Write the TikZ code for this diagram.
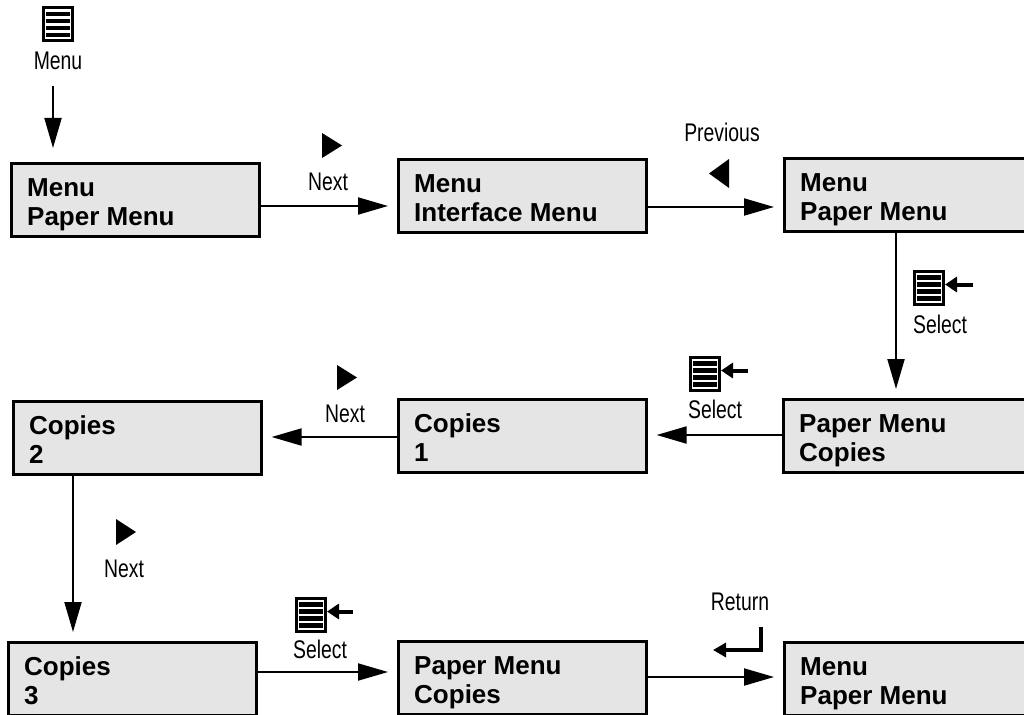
\documentclass[tikz,border=0pt]{standalone}
\usepackage{fontspec}
\setmainfont{Liberation Sans}
\newfontfamily\lblfont[FakeStretch=0.76]{Liberation Sans}
\usetikzlibrary{arrows.meta,calc}

\tikzset{
  panel/.style={draw, line width=2.6pt, fill=black!10, minimum width=248pt,
    minimum height=73pt, inner sep=0pt, anchor=north west},
  ptext/.style={anchor=base west, inner sep=0pt,
    font=\fontsize{26}{29}\selectfont\bfseries},
  lbl/.style={anchor=base, inner sep=0pt, font=\lblfont\fontsize{25.5}{28}\selectfont},
  lblw/.style={lbl, anchor=base west},
  flow/.style={line width=2pt, -{Triangle[length=30pt,width=17pt]}, shorten >=9pt},
  keyarrow/.style={line width=4pt, -{Triangle[length=12pt,width=15pt]}},
  docicon/.style={draw, line width=3pt, minimum width=29pt, minimum height=33pt,
    inner sep=0pt, fill=white},
  docbar/.style={fill=black},
}

\newcommand\panelbox[5]{%
  \node[panel] (#1) at (#2,#3) {};
  \node[ptext] (#1a) at ($(#1.north west)+(17,34)$) {#4};
  \node[ptext] (#1b) at ($(#1.north west)+(17,63)$) {#5};}

\newcommand\docsymbol[3]{%
  \node[docicon] (#1) at (#2,#3) {};
  \foreach \dy in {-12.6,-5.7,1.2,8.1}{
    \fill[docbar] ($(#1.center)+(-12,\dy)$) rectangle ++(24,4.5);
  }}

\begin{document}
\begin{tikzpicture}[x=1pt,y=-1pt]
\useasboundingbox (0,0) rectangle (1024,714);
\clip (0,0) rectangle (1024,714);

% panels
\panelbox{A}{10}{162}{Menu}{Paper Menu}
\panelbox{B}{397}{158}{Menu}{Interface Menu}
\panelbox{C}{783}{157}{Menu}{Paper Menu}
\panelbox{D}{782}{398}{Paper Menu}{Copies}
\panelbox{E}{397}{398}{Copies}{1}
\panelbox{F}{12}{400}{Copies}{2}
\panelbox{G}{7}{641}{Copies}{3}
\panelbox{H}{397}{640}{Paper Menu}{Copies}
\panelbox{I}{783}{641}{Menu}{Paper Menu}

% top menu key
\docsymbol{menuicon}{58}{24.5}
\node[lbl] (menulbl) at (58,70) {Menu};
\coordinate (m0) at (53,86);
\draw[flow, shorten >=14pt] (m0) -- (m0 |- A.north);

% row 1 connectors
\coordinate (r1a) at (0,206);
\coordinate (r1b) at (0,207);
\draw[flow] (A.east |- r1a) -- (B.west |- r1a);
\draw[flow] (B.east |- r1b) -- (C.west |- r1b);

\fill (322,133) -- (342,145.5) -- (322,158) -- cycle;
\node[lbl] (next1) at (328,190) {Next};
\node[lbl] (prev) at (722,142) {Previous};
\fill (729,159) -- (709,173.5) -- (729,188) -- cycle;

% C -> D
\coordinate (c1) at (896,0);
\draw[flow] (C.south -| c1) -- (D.north -| c1);
\docsymbol{sel1}{929}{288}
\coordinate (s1) at (973,0);
\draw[keyarrow] (s1 |- 0,284.5) -- (sel1.east |- 0,284.5);
\node[lblw] (sel1lbl) at (913,333) {Select};

% row 2 connectors
\coordinate (r2a) at (0,435);
\coordinate (r2b) at (0,437);
\draw[flow] (D.west |- r2a) -- (E.east |- r2a);
\draw[flow] (E.west |- r2b) -- (F.east |- r2b);

\docsymbol{sel2}{705}{374}
\coordinate (s2) at (748,0);
\draw[keyarrow] (s2 |- 0,370.5) -- (sel2.east |- 0,370.5);
\node[lblw] (sel2lbl) at (688,418) {Select};

\fill (337,365) -- (357,377.5) -- (337,390) -- cycle;
\node[lbl] (next2) at (345,422) {Next};

% F -> G
\coordinate (c2) at (73,0);
\draw[flow] (F.south -| c2) -- (G.north -| c2);
\fill (116,519) -- (136,532) -- (116,545) -- cycle;
\node[lbl] (next3) at (124,577) {Next};

% row 3 connectors
\coordinate (r3a) at (0,672);
\coordinate (r3b) at (0,677);
\draw[flow] (G.east |- r3a) -- (H.west |- r3a);
\draw[flow] (H.east |- r3b) -- (I.west |- r3b);

\docsymbol{sel3}{311}{615}
\coordinate (s3) at (353,0);
\draw[keyarrow] (s3 |- 0,611.5) -- (sel3.east |- 0,611.5);
\node[lblw] (sel3lbl) at (293,658) {Select};

\node[lbl] (retlbl) at (740,610) {Return};
\coordinate (ret0) at (761,627);
\coordinate (ret1) at (713,650);
\draw[line width=4pt, -{Triangle[length=13pt,width=14pt]}] (ret0) |- (ret1);
\end{tikzpicture}
\end{document}
